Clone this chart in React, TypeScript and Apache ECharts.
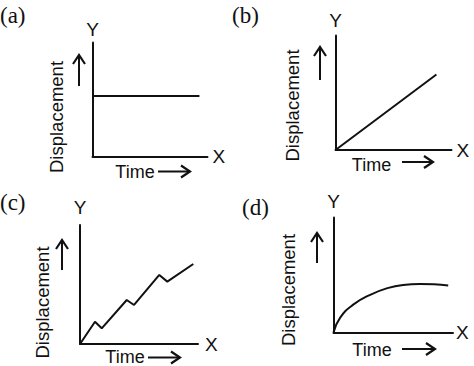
import React, { useEffect, useRef } from "react";
import * as echarts from "echarts";

// Panel labels and axis texts
const panelLabels = ["(a)", "(b)", "(c)", "(d)"];
const xAxisName = "X";
const yAxisName = "Y";
const xTitle = "Time";
const yTitle = "Displacement";

// Series values (axis units 0..100 on both axes)
const seriesA: [number, number][] = [
  [0, 53],
  [93, 53],
];
const seriesB: [number, number][] = [
  [0, 0],
  [87, 66],
];
const seriesC: [number, number][] = [
  [0, 0],
  [12.7, 18.7],
  [18.4, 13.2],
  [39.6, 37],
  [45.8, 32.8],
  [67.2, 58],
  [74, 52.4],
  [96, 67.2],
];
const seriesD: [number, number][] = [
  [0, 0],
  [5.6, 13],
  [16.5, 24.2],
  [30.7, 32.8],
  [44.6, 38.4],
  [58.2, 41.3],
  [72.4, 42.1],
  [84, 41.9],
  [96, 40.9],
];
const allSeries = [seriesA, seriesB, seriesC, seriesD];

const INK = "#111";
const SANS = "'Liberation Sans', Arial, sans-serif";
const SERIF = "'Liberation Serif', 'Times New Roman', serif";

export default function App() {
  const ref = useRef<HTMLDivElement>(null);

  useEffect(() => {
    if (!ref.current) return;
    const chart = echarts.init(ref.current, null, { renderer: "svg" });

    const grids = [
      { left: 92.5, top: 42.5, width: 115, height: 114 },
      { left: 335.5, top: 35.5, width: 116, height: 114.5 },
      { left: 80, top: 225, width: 118, height: 119 },
      { left: 333.5, top: 217.5, width: 119.5, height: 115 },
    ];
    const yNameGap = [4, 6, 8, 7];
    const xNameGap = [5, 5, 7, 3];
    const xNameOffsetY = [1, 1, -2, 3];

    const panelPos = [
      { x: 0, y: 15 },
      { x: 232, y: 15 },
      { x: 0, y: 202 },
      { x: 242, y: 207 },
    ];
    const timePos = [
      { x: 135, y: 172 },
      { x: 371.5, y: 165 },
      { x: 125, y: 356.5 },
      { x: 372, y: 350 },
    ];
    const rightArrows = [
      { x1: 158, x2: 190, y: 171.5 },
      { x1: 402, x2: 433, y: 162 },
      { x1: 148, x2: 180, y: 357.5 },
      { x1: 402, x2: 435, y: 349 },
    ];
    const dispPos = [
      { x: 56, y: 117 },
      { x: 292, y: 105.5 },
      { x: 42, y: 302.5 },
      { x: 288, y: 290 },
    ];
    const upArrows = [
      { x: 79, y1: 86, y2: 55 },
      { x: 320, y1: 80, y2: 47 },
      { x: 62, y1: 270, y2: 240 },
      { x: 317, y1: 263, y2: 233 },
    ];

    const graphic: any[] = [];
    for (let i = 0; i < 4; i++) {
      graphic.push({
        type: "text",
        x: panelPos[i].x,
        y: panelPos[i].y,
        style: {
          text: panelLabels[i],
          font: `23px ${SERIF}`,
          fill: INK,
          align: "left",
          verticalAlign: "middle",
        },
      });
      graphic.push({
        type: "text",
        x: timePos[i].x,
        y: timePos[i].y,
        style: {
          text: xTitle,
          font: `18px ${SANS}`,
          fill: INK,
          align: "center",
          verticalAlign: "middle",
        },
      });
      graphic.push({
        type: "text",
        x: dispPos[i].x,
        y: dispPos[i].y,
        rotation: Math.PI / 2,
        style: {
          text: yTitle,
          font: `18.5px ${SANS}`,
          fill: INK,
          align: "center",
          verticalAlign: "middle",
        },
      });
      const ra = rightArrows[i];
      graphic.push({
        type: "line",
        shape: { x1: ra.x1, y1: ra.y, x2: ra.x2 - 1, y2: ra.y },
        style: { stroke: INK, lineWidth: 2 },
      });
      graphic.push({
        type: "polyline",
        shape: {
          points: [
            [ra.x2 - 9, ra.y - 6],
            [ra.x2, ra.y],
            [ra.x2 - 9, ra.y + 6],
          ],
        },
        style: { stroke: INK, lineWidth: 2.2, fill: null },
      });
      const ua = upArrows[i];
      graphic.push({
        type: "line",
        shape: { x1: ua.x, y1: ua.y1, x2: ua.x, y2: ua.y2 + 1 },
        style: { stroke: INK, lineWidth: 2 },
      });
      graphic.push({
        type: "polyline",
        shape: {
          points: [
            [ua.x - 6, ua.y2 + 9],
            [ua.x, ua.y2],
            [ua.x + 6, ua.y2 + 9],
          ],
        },
        style: { stroke: INK, lineWidth: 2.2, fill: null },
      });
    }

    const option: any = {
      animation: false,
      backgroundColor: "#fff",
      grid: grids,
      xAxis: grids.map((_, i) => ({
        type: "value",
        gridIndex: i,
        min: 0,
        max: 100,
        name: xAxisName,
        nameLocation: "end",
        nameGap: xNameGap[i],
        nameTextStyle: {
          fontFamily: SANS,
          fontSize: 19,
          color: INK,
          verticalAlign: "middle",
          padding: [xNameOffsetY[i] * 2, 0, 0, 0],
        },
        axisLine: { show: true, onZero: false, lineStyle: { color: INK, width: 2 } },
        axisTick: { show: false },
        axisLabel: { show: false },
        splitLine: { show: false },
      })),
      yAxis: grids.map((_, i) => ({
        type: "value",
        gridIndex: i,
        min: 0,
        max: 100,
        name: yAxisName,
        nameLocation: "end",
        nameGap: yNameGap[i],
        nameTextStyle: {
          fontFamily: SANS,
          fontSize: 19,
          color: INK,
        },
        axisLine: { show: true, onZero: false, lineStyle: { color: INK, width: 2 } },
        axisTick: { show: false },
        axisLabel: { show: false },
        splitLine: { show: false },
      })),
      series: allSeries.map((data, i) => ({
        type: "line",
        xAxisIndex: i,
        yAxisIndex: i,
        data,
        showSymbol: false,
        smooth: i === 3 ? 0.5 : false,
        lineStyle: { color: INK, width: 2 },
        silent: true,
      })),
      graphic,
    };

    chart.setOption(option);
    return () => chart.dispose();
  }, []);

  return (
    <div
      ref={ref}
      style={{
        position: "fixed",
        left: 0,
        top: 0,
        width: 474,
        height: 366,
        background: "#fff",
      }}
    />
  );
}
